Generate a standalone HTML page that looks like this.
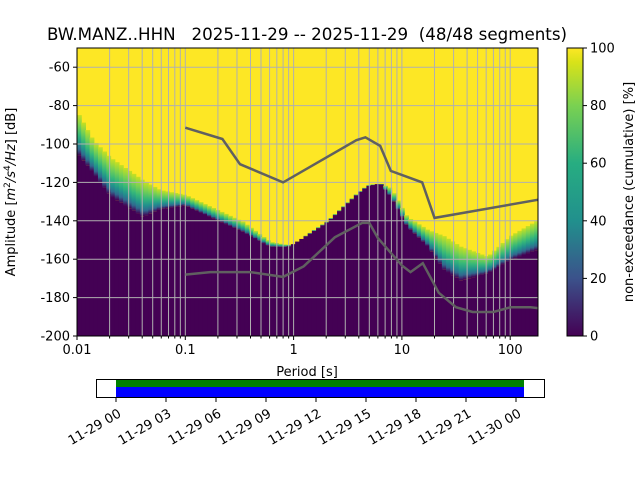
<!DOCTYPE html>
<html><head><meta charset="utf-8"><style>
body{margin:0;background:#fff;}
svg{display:block;font-family:"DejaVu Sans","Liberation Sans",sans-serif;}
</style></head><body>
<svg id="c" width="640" height="480" viewBox="0 0 640 480" xmlns="http://www.w3.org/2000/svg">
<defs>
<linearGradient id="vir" x1="0" y1="1" x2="0" y2="0">
<stop offset="0" stop-color="#440154"/><stop offset="0.2" stop-color="#3b528b"/><stop offset="0.4" stop-color="#21908d"/><stop offset="0.6" stop-color="#27ad81"/><stop offset="0.8" stop-color="#7ad151"/><stop offset="0.95" stop-color="#d8e219"/><stop offset="1" stop-color="#fde725"/>
</linearGradient>
<linearGradient id="band" x1="0" y1="1" x2="0" y2="0">
<stop offset="0" stop-color="#440154"/><stop offset="0.15" stop-color="#31688e"/><stop offset="0.3" stop-color="#21908d"/><stop offset="0.5" stop-color="#35b779"/><stop offset="0.75" stop-color="#7ad151"/><stop offset="1" stop-color="#c8e020"/>
</linearGradient>
<clipPath id="pc"><rect x="77" y="48" width="461" height="288"/></clipPath>
</defs>
<text x="307" y="40" font-size="16.7" text-anchor="middle" style="white-space:pre" xml:space="preserve">BW.MANZ..HHN   2025-11-29 -- 2025-11-29  (48/48 segments)</text>
<g id="heat" clip-path="url(#pc)"></g>
<g id="grid" clip-path="url(#pc)"></g>
<g id="models" clip-path="url(#pc)"></g>
<rect x="77" y="48" width="461" height="288" fill="none" stroke="#000" stroke-width="1"/>
<g id="axes"></g>
<text x="307" y="376" font-size="13" text-anchor="middle">Period [s]</text>
<text transform="translate(15,192) rotate(-90)" font-size="13" text-anchor="middle">Amplitude [<tspan font-style="italic">m</tspan><tspan font-size="9" dy="-5">2</tspan><tspan dy="5" font-style="italic">/s</tspan><tspan font-size="9" dy="-5">4</tspan><tspan dy="5" font-style="italic">/Hz</tspan>] [dB]</text>
<rect x="567" y="48" width="16" height="288" fill="url(#vir)" stroke="#000" stroke-width="1"/>
<g id="cbar"></g>
<text transform="translate(633,192) rotate(-90)" font-size="13" text-anchor="middle">non-exceedance (cumulative) [%]</text>
<g>
<rect x="96.5" y="379.5" width="448" height="18" fill="#fff" stroke="#000"/>
<rect x="116" y="380" width="408" height="7" fill="#008000"/>
<rect x="116" y="387" width="408" height="10" fill="#0000ff"/>
</g>
<g id="time"></g>
</svg>
<script>
const periods=[0.01,0.0141,0.0202,0.0408,0.0587,0.1,0.17,0.34,0.61,0.88,1.0,1.43,2.07,3.89,4.8,6.3,7.9,11.2,17.4,24.5,35,62,100,182];
const lowDb=[-104.7,-115,-127,-138,-134,-132,-138,-145.7,-153.5,-153.6,-152,-146.5,-140.5,-126,-122,-120.5,-127.4,-143,-153.5,-165.6,-171,-167.4,-160.4,-155];
const highDb=[-83,-98,-107,-119,-124,-126.5,-132.6,-140.5,-151,-152.6,-152,-146,-140,-125.5,-121.5,-120.5,-123,-138,-144.8,-148,-153.5,-158.7,-148,-139.6];
const nhnmP=[0.1,0.22,0.32,0.8,3.8,4.6,6.3,7.9,15.4,20,182];
const nhnmDb=[-91.5,-97.4,-110.5,-120,-98,-96.5,-101,-114,-120,-138.5,-129];
const nlnmP=[0.1,0.17,0.4,0.8,1.24,2.4,4.3,5,6,10,12,15.6,21.9,31.6,45,70,101,154,182];
const nlnmDb=[-168,-166.7,-166.7,-169.2,-163.7,-148.6,-141.1,-141.1,-149,-163.3,-166.7,-162.1,-177.5,-185,-187.5,-187.5,-185,-185,-185.5];
const yTicks=[-60,-80,-100,-120,-140,-160,-180,-200];
const xTickVals=[0.01,0.1,1,10,100];
const xTickLabels=["0.01","0.1","1","10","100"];
const cbTicks=[0,20,40,60,80,100];
const timeLabels=["11-29 00","11-29 03","11-29 06","11-29 09","11-29 12","11-29 15","11-29 18","11-29 21","11-30 00"];
const NS="http://www.w3.org/2000/svg";
const X=p=>77+(Math.log10(p)+2)*108.3;
const Y=d=>48+(-50-d)*1.92;
function mk(t,a,par){const e=document.createElementNS(NS,t);for(const k in a)e.setAttribute(k,a[k]);document.getElementById(par).appendChild(e);return e;}
function interp(p,ps,vs){const lx=Math.log10(p);for(let i=0;i<ps.length-1;i++){const a=Math.log10(ps[i]),b=Math.log10(ps[i+1]);if(lx>=a&&lx<=b){return vs[i]+(vs[i+1]-vs[i])*(lx-a)/(b-a);}}return vs[vs.length-1];}
let bg=mk('rect',{x:77,y:48,width:461,height:288,fill:'#fde725'},'heat');


const lo=Math.log10(periods[0]),hi=Math.log10(periods[periods.length-1]);
const ncol=110;
for(let i=0;i<ncol;i++){
 const p0=Math.pow(10,lo+(hi-lo)*i/ncol),p1=Math.pow(10,lo+(hi-lo)*(i+1)/ncol);
 const pm=Math.sqrt(p0*p1);
 const l=interp(pm,periods,lowDb),h=interp(pm,periods,highDb);
 const x0=X(p0),w=X(p1)-x0+0.6;
 let r=mk('rect',{x:x0,y:Y(l),width:w,height:336-Y(l),fill:'#440154'},'heat');
 
 
 if(Y(h)<Y(l)-0.5){let g=mk('rect',{x:x0,y:Y(h),width:w,height:Y(l)-Y(h),fill:'url(#band)'},'heat');
 
 }
}
for(let d=-2;d<=2;d++)for(let m=1;m<=9;m++){const p=m*Math.pow(10,d);const x=X(p);if(x<77||x>538)continue;
 let l=mk('line',{x1:x,x2:x,y1:48,y2:336,stroke:'#b0b0b0','stroke-width':1},'grid');
 
 }
for(const t of yTicks){let l=mk('line',{x1:77,x2:538,y1:Y(t),y2:Y(t),stroke:'#b0b0b0','stroke-width':1},'grid');
 
 }
function poly(ps,ds,name){let pts=ps.map((p,i)=>X(p).toFixed(1)+','+Y(ds[i]).toFixed(1)).join(' ');
 let e=mk('polyline',{points:pts,fill:'none',stroke:'#606060','stroke-width':2.5},'models');
 
 }
poly(nhnmP,nhnmDb,'nhnm-line');poly(nlnmP,nlnmDb,'nlnm-line');
for(const t of yTicks){const y=Y(t);mk('line',{x1:73,x2:77,y1:y,y2:y,stroke:'#000'},'axes');
 let tx=mk('text',{x:70,y:y+4.5,'font-size':13,'text-anchor':'end'},'axes');tx.textContent=t;
 
 }
xTickVals.forEach((v,i)=>{const x=X(v);mk('line',{x1:x,x2:x,y1:336,y2:340,stroke:'#000'},'axes');
 let tx=mk('text',{x:x,y:354,'font-size':13,'text-anchor':'middle'},'axes');tx.textContent=xTickLabels[i];
 
 });
for(let d=-2;d<=2;d++)for(let m=2;m<=9;m++){const x=X(m*Math.pow(10,d));if(x>538)continue;mk('line',{x1:x,x2:x,y1:336,y2:338.5,stroke:'#000'},'axes');}
for(const t of cbTicks){const y=336-t*2.88;mk('line',{x1:583,x2:587,y1:y,y2:y,stroke:'#000'},'cbar');
 let tx=mk('text',{x:590,y:y+4.5,'font-size':13},'cbar');tx.textContent=t;
 
 }
timeLabels.forEach((s,i)=>{const x=116+i*50;mk('line',{x1:x,x2:x,y1:398,y2:402,stroke:'#000'},'time');
 let tx=mk('text',{transform:`translate(${x+6},${416}) rotate(-30)`,'font-size':13,'text-anchor':'end'},'time');tx.textContent=s;
 
 });
</script>
</body></html>
